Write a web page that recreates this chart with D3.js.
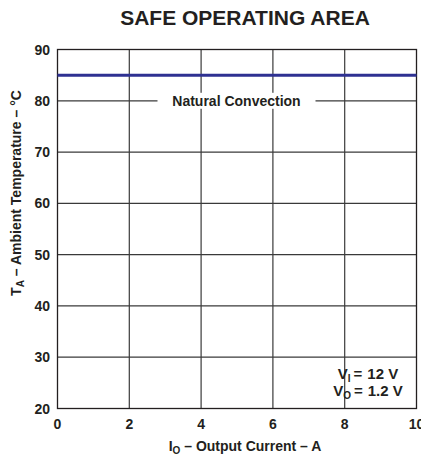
<!DOCTYPE html>
<html>
<head>
<style>
html, body {
    margin: 0;
    padding: 0;
    background: #fff;
    overflow: hidden;
}
svg text {
    font-family: "Liberation Sans", Arial, sans-serif;
    font-weight: bold;
    fill: #231f20;
}
</style>
</head>
<body>
<script src="https://d3js.org/d3.v7.min.js"></script>
<script>
// data
const xTicks = [0, 2, 4, 6, 8, 10];
const yTicks = [20, 30, 40, 50, 60, 70, 80, 90];
const currents = [0, 10];
const tempLimit = [85, 85];
const curveLabel = "Natural Convection";
const conditions = [["V", "I", "12 V"], ["V", "O", "1.2 V"]];

const [width, height] = [421, 459];
const margin = {top: 49.5, right: 4.5, bottom: 50.5, left: 57.5};

const svg = d3.select("body").append("svg")
    .attr("width", width)
    .attr("height", height);

const x = d3.scaleLinear().domain([0, 10]).range([margin.left, width - margin.right]);
const y = d3.scaleLinear().domain([20, 90]).range([height - margin.bottom, margin.top]);

svg.append("text")
    .attr("x", 245)
    .attr("y", 25)
    .attr("text-anchor", "middle")
    .style("font-size", "21px")
    .text("SAFE OPERATING AREA");

// grid
const grid = svg.append("g")
    .attr("stroke", "#3a3a3a")
    .attr("stroke-width", 1.2);

grid.selectAll("line.v")
    .data(xTicks.slice(1, -1))
    .join("line")
        .attr("class", "v")
        .attr("x1", d => x(d))
        .attr("x2", d => x(d))
        .attr("y1", y(20))
        .attr("y2", y(90));

grid.selectAll("line.h")
    .data(yTicks.slice(1, -1))
    .join("line")
        .attr("class", "h")
        .attr("x1", x(0))
        .attr("x2", x(10))
        .attr("y1", d => y(d))
        .attr("y2", d => y(d));

svg.append("rect")
    .attr("x", x(0))
    .attr("y", y(90))
    .attr("width", x(10) - x(0))
    .attr("height", y(20) - y(90))
    .attr("fill", "none")
    .attr("stroke", "#231f20")
    .attr("stroke-width", 1.3);

// label box that breaks the grid
const lx = 236.5, ly = y(80);
svg.append("rect")
    .attr("x", lx - 79)
    .attr("y", ly - 8)
    .attr("width", 158)
    .attr("height", 16)
    .attr("fill", "#fff");

svg.append("text")
    .attr("x", lx)
    .attr("y", ly + 5)
    .attr("text-anchor", "middle")
    .style("font-size", "14px")
    .text(curveLabel);

const line = d3.line()
    .x(d => x(d[0]))
    .y(d => y(d[1]));

svg.append("path")
    .datum(currents.map((c, i) => [c, tempLimit[i]]))
    .attr("d", line)
    .attr("fill", "none")
    .attr("stroke", "#2e3192")
    .attr("stroke-width", 3);

// tick labels
svg.append("g")
    .selectAll("text")
    .data(xTicks)
    .join("text")
        .attr("x", d => x(d))
        .attr("y", 429)
        .attr("text-anchor", "middle")
        .style("font-size", "14px")
        .text(d => d);

svg.append("g")
    .selectAll("text")
    .data(yTicks)
    .join("text")
        .attr("x", 50)
        .attr("y", d => y(d) + 5)
        .attr("text-anchor", "end")
        .style("font-size", "14px")
        .text(d => d);

// axis titles
const xt = svg.append("text")
    .attr("x", 245)
    .attr("y", 451)
    .attr("text-anchor", "middle")
    .style("font-size", "14px");
xt.append("tspan").text("I");
xt.append("tspan").attr("dy", 3).style("font-size", "10px").text("O");
xt.append("tspan").attr("dy", -3).text(" \u2013 Output Current \u2013 A");

const yt = svg.append("text")
    .attr("transform", "translate(21,193) rotate(-90)")
    .attr("text-anchor", "middle")
    .style("font-size", "14px");
yt.append("tspan").text("T");
yt.append("tspan").attr("dy", 3).style("font-size", "10px").text("A");
yt.append("tspan").attr("dy", -3).text(" \u2013 Ambient Temperature \u2013 \u00B0C");

// test conditions
conditions.forEach((c, i) => {
    const t = svg.append("text")
        .attr("x", 368)
        .attr("y", 379 + i * 17)
        .attr("text-anchor", "middle")
        .style("font-size", "15px");
    t.append("tspan").text(c[0]);
    t.append("tspan").attr("dy", 3).style("font-size", "10px").text(c[1]);
    t.append("tspan").attr("dy", -3).attr("dx", 3).text("=");
    t.append("tspan").attr("dx", 5).text(c[2]);
});
</script>
</body>
</html>
